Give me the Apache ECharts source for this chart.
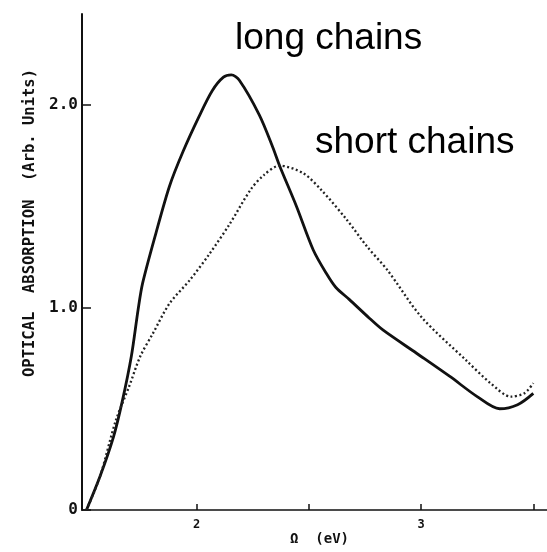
<!DOCTYPE html>
<html>
<head>
<meta charset="utf-8">
<script src="https://cdn.jsdelivr.net/npm/echarts@6/dist/echarts.min.js"></script>
<style>
html,body{margin:0;padding:0;background:#fff;}
#chart{width:547px;height:552px;}
</style>
</head>
<body>
<div id="chart"></div>
<script>
// Photon energy (eV) and optical absorption (arb. units)
const longX  = [1.51, 1.57, 1.63, 1.67, 1.71, 1.74, 1.76, 1.82, 1.88, 1.94, 2.01, 2.07, 2.12, 2.155, 2.19, 2.28, 2.34, 2.37, 2.445, 2.52, 2.58, 2.62, 2.68, 2.77, 2.83, 2.98, 3.13, 3.25, 3.35, 3.43, 3.50];
const longY  = [0.0, 0.165, 0.36, 0.54, 0.76, 0.99, 1.12, 1.37, 1.60, 1.77, 1.94, 2.07, 2.137, 2.148, 2.123, 1.95, 1.79, 1.70, 1.50, 1.284, 1.165, 1.10, 1.04, 0.947, 0.889, 0.774, 0.658, 0.56, 0.50, 0.52, 0.576];
const shortX = [1.51, 1.57, 1.64, 1.70, 1.75, 1.805, 1.88, 1.97, 2.06, 2.15, 2.24, 2.30, 2.37, 2.475, 2.56, 2.67, 2.76, 2.85, 3.00, 3.20, 3.31, 3.40, 3.46, 3.50];
const shortY = [0.0, 0.165, 0.44, 0.61, 0.76, 0.87, 1.02, 1.135, 1.268, 1.416, 1.58, 1.654, 1.70, 1.663, 1.575, 1.432, 1.30, 1.185, 0.955, 0.74, 0.626, 0.56, 0.576, 0.626];

const seriesNames = ['long chains', 'short chains'];
const xTicks = [2, 2.5, 3, 3.5];
const xTickLabels = [2, 3];
const yTickLabels = ['0', '1.0', '2.0'];
const xAxisTitle = 'Ω  (eV)';
const yAxisTitle = 'OPTICAL  ABSORPTION  (Arb. Units)';

const pairs = (xs, ys) => xs.map((x, i) => [x, ys[i]]);

const chart = echarts.init(document.getElementById('chart'), null, {renderer: 'canvas'});
const mono = '"DejaVu Sans Mono", monospace';

chart.setOption({
  animation: false,
  backgroundColor: '#ffffff',
  grid: {left: 82, right: 0, top: 14, bottom: 42, containLabel: false},
  xAxis: {
    type: 'value',
    min: 1.49,
    max: 3.561,
    axisLine: {show: true, lineStyle: {color: '#111', width: 1.5}},
    axisTick: {show: true, inside: true, length: 6, customValues: xTicks, lineStyle: {color: '#111', width: 1.5}},
    axisLabel: {
      show: true, customValues: xTickLabels, margin: 9,
      color: '#111', fontFamily: mono, fontWeight: 'bold', fontSize: 12,
      formatter: v => String(Math.round(v))
    },
    splitLine: {show: false}
  },
  yAxis: {
    type: 'value',
    min: 0,
    max: 2.449,
    interval: 1,
    axisLine: {show: true, lineStyle: {color: '#111', width: 2}},
    axisTick: {show: true, inside: true, length: 9, lineStyle: {color: '#111', width: 1.5}},
    axisLabel: {
      show: true, margin: 4, showMaxLabel: false,
      color: '#111', fontFamily: mono, fontWeight: 'bold', fontSize: 16,
      formatter: v => yTickLabels[Math.round(v)] || ''
    },
    splitLine: {show: false}
  },
  graphic: [
    {type: 'text', left: 235, top: 20, style: {text: seriesNames[0], font: '37px "Liberation Sans", Arial, sans-serif', fill: '#000'}},
    {type: 'text', left: 315, top: 124, style: {text: seriesNames[1], font: '37px "Liberation Sans", Arial, sans-serif', fill: '#000'}},
    {type: 'text', left: 290, top: 532, style: {text: xAxisTitle, font: 'bold 14px ' + mono, fill: '#111'}},
    {type: 'text', x: 30, y: 223, rotation: Math.PI / 2,
      style: {text: yAxisTitle, font: 'bold 15.5px ' + mono, fill: '#111', align: 'center', verticalAlign: 'middle'}}
  ],
  series: [
    {
      name: seriesNames[0], type: 'line', data: pairs(longX, longY),
      smooth: 0.3, showSymbol: false, symbol: 'none',
      lineStyle: {color: '#111', width: 2.8}
    },
    {
      name: seriesNames[1], type: 'line', data: pairs(shortX, shortY),
      smooth: 0.3, showSymbol: false, symbol: 'none',
      lineStyle: {color: '#222', width: 2.3, type: [2, 2.5]}
    }
  ]
});
</script>
</body>
</html>
